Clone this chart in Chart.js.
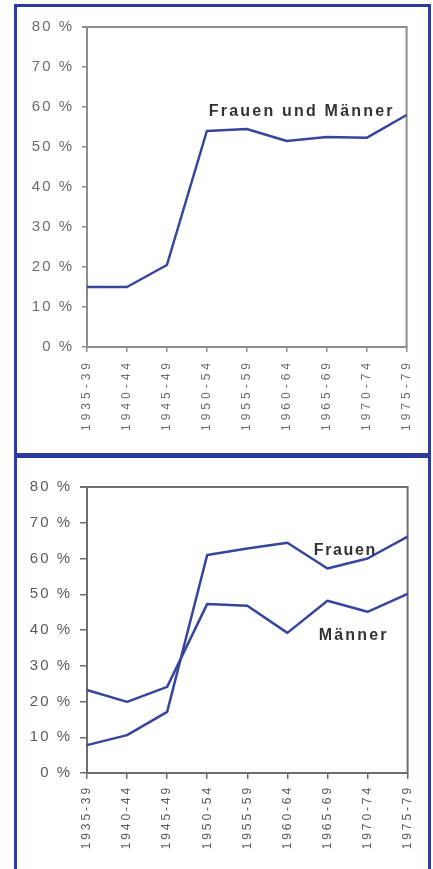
<!DOCTYPE html>
<html><head><meta charset="utf-8">
<script src="https://cdn.jsdelivr.net/npm/chart.js@4"></script>
<style>
html,body{margin:0;padding:0;background:#fff;width:433px;height:869px;overflow:hidden;}
.panel{position:absolute;left:14px;width:411px;border:3px solid #2d3a9f;background:#fff;}
#p1{top:4px;height:446px;}
#p2{top:455px;height:420px;}
.box{position:relative;width:411px;}
#b1{height:446px;}
#b2{height:411px;}
</style>
</head><body>
<div class="panel" id="p1"><div class="box" id="b1"><canvas id="c1"></canvas></div></div>
<div class="panel" id="p2"><div class="box" id="b2"><canvas id="c2"></canvas></div></div>
<script>
const categories = ['1935-39','1940-44','1945-49','1950-54','1955-59','1960-64','1965-69','1970-74','1975-79'];
const totalValues = [15, 15, 20.5, 54, 54.5, 51.5, 52.5, 52.3, 58];
const womenValues = [7.8, 10.6, 17.1, 61, 62.8, 64.4, 57.2, 60, 66.1];
const menValues = [23.2, 19.9, 24.1, 47.3, 46.8, 39.2, 48.2, 45.1, 50.1];
const yMin = 0, yMax = 80, yStep = 10;
const topLabels = ['Frauen und Männer'];
const bottomLabels = ['Frauen', 'Männer'];

const LINE = '#36469c';

const spacingPlugin = {
  id: 'spacing',
  beforeDraw(chart) {
    const ls = chart.options.plugins.spacing || {};
    for (const id of Object.keys(chart.scales)) {
      const s = chart.scales[id];
      if (!s._lsWrapped) {
        const orig = s.drawLabels;
        const val = ls[id] || '0px';
        s.drawLabels = function(area) {
          const ctx = this.ctx;
          ctx.save();
          ctx.letterSpacing = val;
          orig.call(this, area);
          ctx.restore();
        };
        s._lsWrapped = true;
      }
    }
  }
};

const framePlugin = {
  id: 'frame',
  beforeDatasetsDraw(chart) {
    const o = chart.options.plugins.frame;
    const a = chart.chartArea, ctx = chart.ctx;
    ctx.save();
    ctx.strokeStyle = o.color;
    ctx.lineWidth = o.width;
    ctx.beginPath();
    ctx.moveTo(a.left - o.ext, a.top);
    ctx.lineTo(a.right, a.top);
    ctx.lineTo(a.right, a.bottom);
    ctx.stroke();
    ctx.restore();
  }
};

const notePlugin = {
  id: 'notes',
  afterDatasetsDraw(chart) {
    const notes = chart.options.plugins.notes.items;
    const ctx = chart.ctx, xs = chart.scales.x, ys = chart.scales.y;
    ctx.save();
    ctx.fillStyle = '#333';
    ctx.textAlign = 'left';
    ctx.textBaseline = 'alphabetic';
    for (const n of notes) {
      ctx.font = n.font;
      ctx.letterSpacing = n.spacing;
      ctx.fillText(n.text, xs.getPixelForValue(n.xi), ys.getPixelForValue(n.yv));
    }
    ctx.restore();
  }
};

function makeChart(id, datasets, o) {
  return new Chart(document.getElementById(id), {
    type: 'line',
    data: {
      labels: categories,
      datasets: datasets.map(d => ({
        data: d, borderColor: LINE, borderWidth: 2.5, pointRadius: 0,
        tension: 0, fill: false, borderJoinStyle: 'round'
      }))
    },
    options: {
      responsive: true, maintainAspectRatio: false, animation: false,
      layout: { padding: { left: 0, top: o.padTop, right: o.padRight, bottom: 0 } },
      plugins: {
        legend: { display: false }, tooltip: { enabled: false },
        spacing: { x: o.xSpacing, y: '2px' },
        frame: { color: o.axisColor, width: 2, ext: o.yTick },
        notes: { items: o.notes }
      },
      scales: {
        x: {
          offset: false,
          grid: { display: true, drawOnChartArea: false, drawTicks: true, tickLength: o.xTick, color: o.axisColor, lineWidth: 1.5 },
          border: { display: true, color: o.axisColor, width: 2 },
          ticks: { autoSkip: false, minRotation: 90, maxRotation: 90, padding: o.xPad, color: o.textColor,
                   font: { family: 'Liberation Sans', size: 12 } },
          afterFit(s) { s.height = o.xHeight; }
        },
        y: {
          min: yMin, max: yMax,
          grid: { display: true, drawOnChartArea: false, drawTicks: true, tickLength: o.yTick, color: o.axisColor, lineWidth: 1.5 },
          border: { display: true, color: o.axisColor, width: 2 },
          ticks: { stepSize: yStep, padding: 8, color: o.textColor,
                   font: { family: 'Liberation Sans', size: 15 },
                   callback: v => v + ' %' },
          afterFit(s) { s.width = 70; }
        }
      }
    },
    plugins: [spacingPlugin, framePlugin, notePlugin]
  });
}

makeChart('c1', [totalValues], {
  padTop: 20, padRight: 13, xHeight: 106, xTick: 5, yTick: 5, xPad: 7, xSpacing: '4px',
  axisColor: '#8c8c8c', textColor: '#6c6c6c',
  notes: [{ text: topLabels[0], xi: 3.05, yv: 57.8, font: 'bold 16px "Liberation Sans"', spacing: '2.2px' }]
});

makeChart('c2', [womenValues, menValues], {
  padTop: 29, padRight: 19, xHeight: 96, xTick: 6, yTick: 7, xPad: 6, xSpacing: '2.9px',
  axisColor: '#6e6e6e', textColor: '#5a5a5a',
  notes: [
    { text: bottomLabels[0], xi: 5.66, yv: 61, font: 'bold 16px "Liberation Sans"', spacing: '1.6px' },
    { text: bottomLabels[1], xi: 5.78, yv: 37.2, font: 'bold 16px "Liberation Sans"', spacing: '2.2px' }
  ]
});
</script>
</body></html>
